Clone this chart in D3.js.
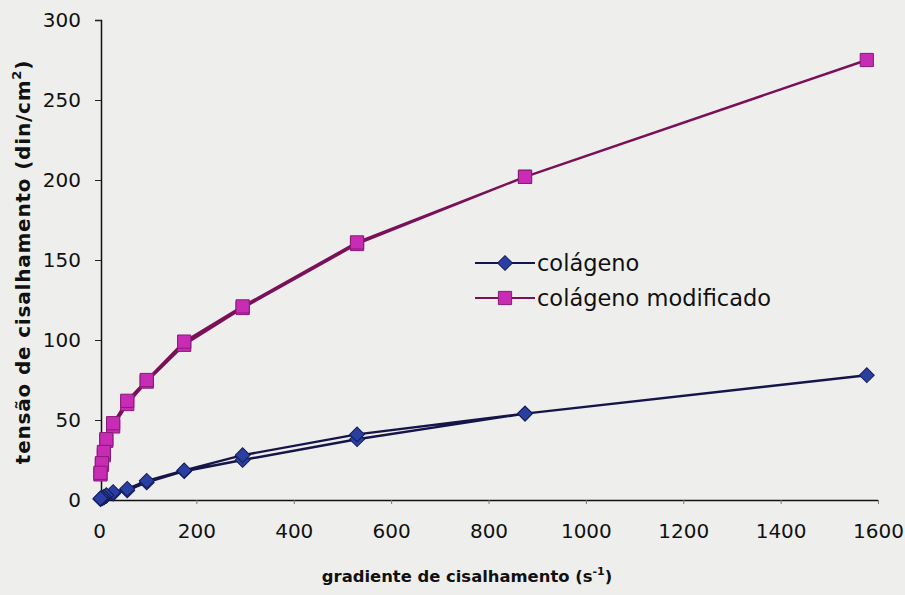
<!DOCTYPE html>
<html>
<head>
<meta charset="utf-8">
<script src="https://cdn.jsdelivr.net/npm/d3@7"></script>
<style>
  html, body { margin: 0; padding: 0; background: #eeefed; }
  svg { display: block; }
  text { font-family: "DejaVu Sans", sans-serif; fill: #111; }
</style>
</head>
<body>
<svg id="chart" width="905" height="595"></svg>
<script>
// Shear rate (s^-1): ramp up, then back down
const shearUp = [3, 6, 10, 15, 29, 58, 98, 175, 295, 530, 875, 1577];
const shearDown = [875, 530, 295, 175, 98, 58, 29, 15, 10, 6, 3];

// Shear stress (din/cm²)
const colagenoUp = [0.5, 1, 1.5, 2.5, 4, 6, 11, 18, 25, 38, 54, 78];
const colagenoDown = [54, 41, 28, 18.5, 12, 7, 5, 3, 2, 1.5, 1];
const modificadoUp = [16, 22, 28, 37, 46, 60, 74, 97, 120, 160, 202, 275];
const modificadoDown = [202, 161, 121, 99, 75, 62, 48, 38, 30, 23, 17];

const xTicks = [0, 200, 400, 600, 800, 1000, 1200, 1400, 1600];
const yTicks = [0, 50, 100, 150, 200, 250, 300];

const seriesNames = ["colágeno", "colágeno modificado"];

const svg = d3.select("#chart");
const x = d3.scaleLinear().domain([0, 1600]).range([99, 878]);
const y = d3.scaleLinear().domain([0, 300]).range([500, 20]);

function pairs(up, down) {
  return shearUp.map((s, i) => [s, up[i]])
    .concat(shearDown.map((s, i) => [s, down[i]]));
}

const series = [
  { name: seriesNames[0], pts: pairs(colagenoUp, colagenoDown), line: "#15154a", fill: "#2a3fa0", stroke: "#131c5c", shape: "diamond" },
  { name: seriesNames[1], pts: pairs(modificadoUp, modificadoDown), line: "#7a1058", fill: "#c82cb4", stroke: "#8a1a78", shape: "square" }
];

// Axes
const fmt = d3.format("d");
const yAxis = d3.axisLeft(y).tickValues(yTicks).tickFormat(fmt).tickSize(6).tickPadding(14);
const gy = svg.append("g").attr("transform", "translate(101,0)").call(yAxis);
gy.select(".domain").attr("stroke", "#111").attr("stroke-width", 1.5);
gy.selectAll(".tick line").attr("stroke", "#222");
gy.selectAll(".tick text").attr("font-size", 20).attr("fill", "#111");

const xAxis = d3.axisBottom(x).tickValues(xTicks).tickFormat(fmt).tickSize(4).tickPadding(20).tickSizeOuter(0);
const gx = svg.append("g").attr("transform", "translate(0,500)").call(xAxis);
gx.select(".domain").attr("stroke", "#111").attr("stroke-width", 1.5).attr("d", `M101,0.5H${x(1600)}`);
gx.selectAll(".tick line").attr("stroke", "#777");
gx.selectAll(".tick text").attr("font-size", 20).attr("fill", "#111");

// Lines and markers (diamond = square turned 45°)
const line = d3.line().x(d => x(d[0])).y(d => y(d[1]));
const marker = d3.symbol().type(d3.symbolSquare);

series.forEach(s => {
  const rot = s.shape === "diamond" ? 45 : 0;
  const size = s.shape === "diamond" ? 110 : 175;
  svg.append("path").attr("d", line(s.pts)).attr("fill", "none")
    .attr("stroke", s.line).attr("stroke-width", 2.4);
  svg.append("g").selectAll("path").data(s.pts).join("path")
    .attr("transform", d => `translate(${x(d[0])},${y(d[1])}) rotate(${rot})`)
    .attr("d", marker.size(size)())
    .attr("fill", s.fill).attr("stroke", s.stroke).attr("stroke-width", 1);
});

// Legend
const legend = svg.append("g");
series.forEach((s, i) => {
  const ly = 263 + i * 35;
  const rot = s.shape === "diamond" ? 45 : 0;
  const size = s.shape === "diamond" ? 110 : 175;
  legend.append("line").attr("x1", 475).attr("x2", 535).attr("y1", ly).attr("y2", ly)
    .attr("stroke", s.line).attr("stroke-width", 2.2);
  legend.append("path").attr("transform", `translate(505,${ly}) rotate(${rot})`)
    .attr("d", marker.size(size)())
    .attr("fill", s.fill).attr("stroke", s.stroke);
  legend.append("text").attr("x", 537).attr("y", ly).attr("dy", "0.35em")
    .attr("font-size", 22.5).text(s.name);
});

// Axis titles
const yt = svg.append("text").attr("transform", "translate(30,262) rotate(-90)")
  .attr("text-anchor", "middle").attr("font-size", 20).attr("font-weight", "bold")
  .attr("letter-spacing", 0.8);
yt.append("tspan").text("tensão de cisalhamento (din/cm");
yt.append("tspan").attr("font-size", 13).attr("dy", -9).text("2");
yt.append("tspan").attr("dy", 9).text(")");

const xt = svg.append("text").attr("x", 467).attr("y", 582)
  .attr("text-anchor", "middle").attr("font-size", 16.4).attr("font-weight", "bold");
xt.append("tspan").text("gradiente de cisalhamento (s");
xt.append("tspan").attr("font-size", 11).attr("dy", -7).text("-1");
xt.append("tspan").attr("dy", 7).text(")");
</script>
</body>
</html>
